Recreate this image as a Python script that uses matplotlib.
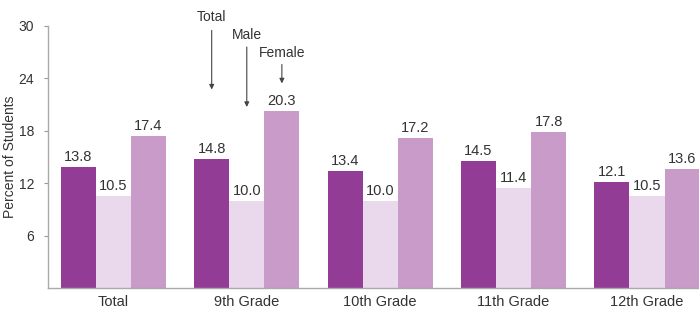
import matplotlib
matplotlib.use("Agg")
import matplotlib.pyplot as plt
import numpy as np

plt.rcParams['font.family'] = ['Liberation Sans Narrow', 'Liberation Sans', 'DejaVu Sans']

categories = ["Total", "9th Grade", "10th Grade", "11th Grade", "12th Grade"]
total = [13.8, 14.8, 13.4, 14.5, 12.1]
male = [10.5, 10.0, 10.0, 11.4, 10.5]
female = [17.4, 20.3, 17.2, 17.8, 13.6]
series_names = ["Total", "Male", "Female"]
colors = ["#933c96", "#ead8ec", "#c99bc9"]
yticks = [6, 12, 18, 24, 30]

fig = plt.figure(figsize=(6.99, 3.12), dpi=100)
ax = fig.add_axes([0.0687, 0.077, 0.9313, 0.84])
x = np.arange(len(categories))
w = 0.263
txtc = "#333333"
for i, (vals, c) in enumerate(zip([total, male, female], colors)):
    xs = x + (i - 1) * w
    ax.bar(xs, vals, width=w, color=c, edgecolor='none')
    for xi, v in zip(xs, vals):
        ax.text(xi, v + 0.35, f"{v:.1f}", ha='center', va='bottom', fontsize=10.5, color=txtc)

ax.set_xlim(-0.49, 4.39)
ax.set_ylim(0, 30)
ax.set_yticks(yticks)
ax.set_yticklabels([str(t) for t in yticks], fontsize=10, color=txtc)
ax.set_xticks(x)
ax.set_xticklabels(categories, fontsize=10.5, color=txtc)
ax.tick_params(axis='x', length=0, pad=5)
ax.tick_params(axis='y', length=3, color='#999999', direction='out', pad=7)
ax.set_ylabel("Percent of Students", fontsize=10, color=txtc)
ax.yaxis.set_label_coords(-0.047, 0.5)
for s in ['top', 'right']:
    ax.spines[s].set_visible(False)
for s in ['left', 'bottom']:
    ax.spines[s].set_color('#aaaaaa')
    ax.spines[s].set_linewidth(1.0)

# annotations
ann = [(1 - w, 31.0, 29.8, 22.4), (1, 29.0, 27.9, 20.4), (1 + w, 26.9, 25.9, 23.1)]
for name, (ax_x, ty, y0, y1) in zip(series_names, ann):
    ax.text(ax_x, ty, name, ha='center', va='center', fontsize=10, color=txtc, clip_on=False)
    ax.annotate("", xy=(ax_x, y1), xytext=(ax_x, y0),
                arrowprops=dict(arrowstyle='-|>', color='#444444', lw=0.8, mutation_scale=7),
                annotation_clip=False)

fig.savefig("out.png", dpi=100)
